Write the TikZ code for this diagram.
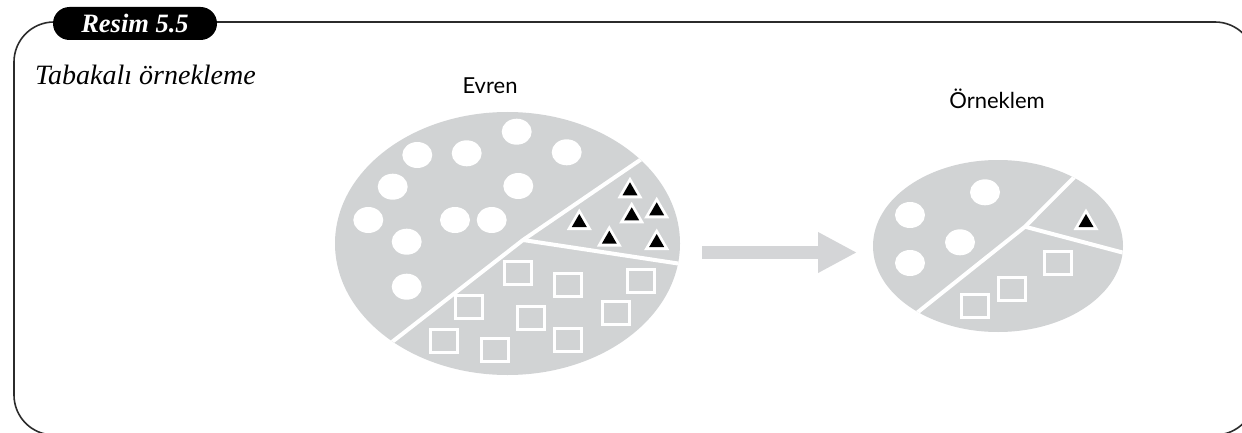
\documentclass[tikz,border=0pt]{standalone}
\usepackage{fontspec}
\newfontfamily\latofont{Lato}
\newfontfamily\serifit{Liberation Serif}
\usetikzlibrary{shapes.geometric,arrows.meta}
\definecolor{pie}{HTML}{D1D3D4}
\definecolor{arrowgray}{HTML}{D4D5D7}
\definecolor{framec}{HTML}{2B2B2B}
\tikzset{
  frameline/.style={draw=framec, line width=1.6pt, rounded corners=40pt},
  dot/.style={ellipse, fill=white, minimum width=30pt, minimum height=26pt, inner sep=0pt},
  sqbox/.style={draw=white, line width=3.3pt, minimum width=27pt, minimum height=23pt, inner sep=0pt},
  divider/.style={draw=white, line width=4pt, line join=round},
  pop/.style={ellipse, fill=pie, inner sep=0pt},
  tri/.pic={
    \fill[white] (0,-11.5) -- (12.5,10) -- (-12.5,10) -- cycle;
    \fill[black] (0,-6) -- (7.5,7) -- (-7.5,7) -- cycle;
  },
  label/.style={font=\latofont\fontsize{22}{26}\selectfont, anchor=base, inner sep=0pt},
}
\begin{document}
\begin{tikzpicture}[x=1pt,y=-1pt]
\useasboundingbox (0,0) rectangle (1242,433);
\clip (0,0) rectangle (1242,433);

% frame
\draw[frameline] (14,22) rectangle (1255,435);
\node[fill=black, rounded corners=16.5pt, minimum width=164pt, minimum height=33pt,
      inner sep=0pt, text=white, font=\serifit\fontsize{26.5}{30}\selectfont\bfseries\itshape]
      (badge) at (135,23.5) {Resim 5.5};
\node[anchor=base west, inner sep=0pt, font=\serifit\fontsize{28}{32}\selectfont\itshape]
      (title) at (35,85) {Tabakalı örnekleme};

% labels
\node[label] (evrenlabel) at (490,94) {Evren};
\node[label] (orneklabel) at (997,109) {Örneklem};

% population ellipse
\node[pop, minimum width=345pt, minimum height=263pt] (evren) at (507.5,243.5) {};
\begin{scope}
  \clip (507.5,243.5) ellipse [x radius=172.5pt, y radius=131.5pt];
  \draw[divider] (366,362) -- (392,342) -- (523,240) -- (643,158) -- (670,139.5);
  \draw[divider] (523,240) -- (676.7,263.3) -- (700,267);
\end{scope}
\foreach \x/\y [count=\i] in {516.7/131.7, 417.3/155, 466.7/153.3, 566.7/152.3,
    392.7/186.7, 518.3/186, 368.3/220, 455/220, 491.7/220, 406.7/241.7, 406.7/286.7}
  \node[dot] (bc\i) at (\x,\y) {};
\foreach \x/\y in {630/188.3, 656.7/208.3, 631.7/213.3, 579.3/220, 609.3/236.7, 656.7/240}
  \pic at (\x,\y) {tri};
\foreach \x/\y [count=\i] in {518.3/273.3, 568.3/285, 640.7/280.7, 469/307.3, 530.7/318.3,
    616/313.3, 444/341, 495/350, 568.3/340}
  \node[sqbox] (bs\i) at (\x,\y) {};

% sample ellipse
\node[pop, minimum width=250pt, minimum height=172pt] (orneklem) at (998,246) {};
\begin{scope}
  \clip (998,246) ellipse [x radius=125pt, y radius=86pt];
  \draw[divider] (895,330) -- (918,312) -- (1025,226.7) -- (1074,177.5) -- (1095,156);
  \draw[divider] (1025,226.7) -- (1121.7,252.3) -- (1140,257);
\end{scope}
\foreach \x/\y [count=\i] in {985/192.3, 910/215, 960/242.3, 910/263}
  \node[dot] (sc\i) at (\x,\y) {};
\pic at (1086,220) {tri};
\foreach \x/\y [count=\i] in {1058.3/263.3, 1011.7/289, 975/305.7}
  \node[sqbox] (ss\i) at (\x,\y) {};

% arrow
\coordinate (as) at (702,252.5);
\coordinate (ae) at (857,252.5);
\draw[arrowgray, line width=13pt, -{Triangle[length=39pt,width=38pt]}] (as) -- (ae);
\end{tikzpicture}
\end{document}
